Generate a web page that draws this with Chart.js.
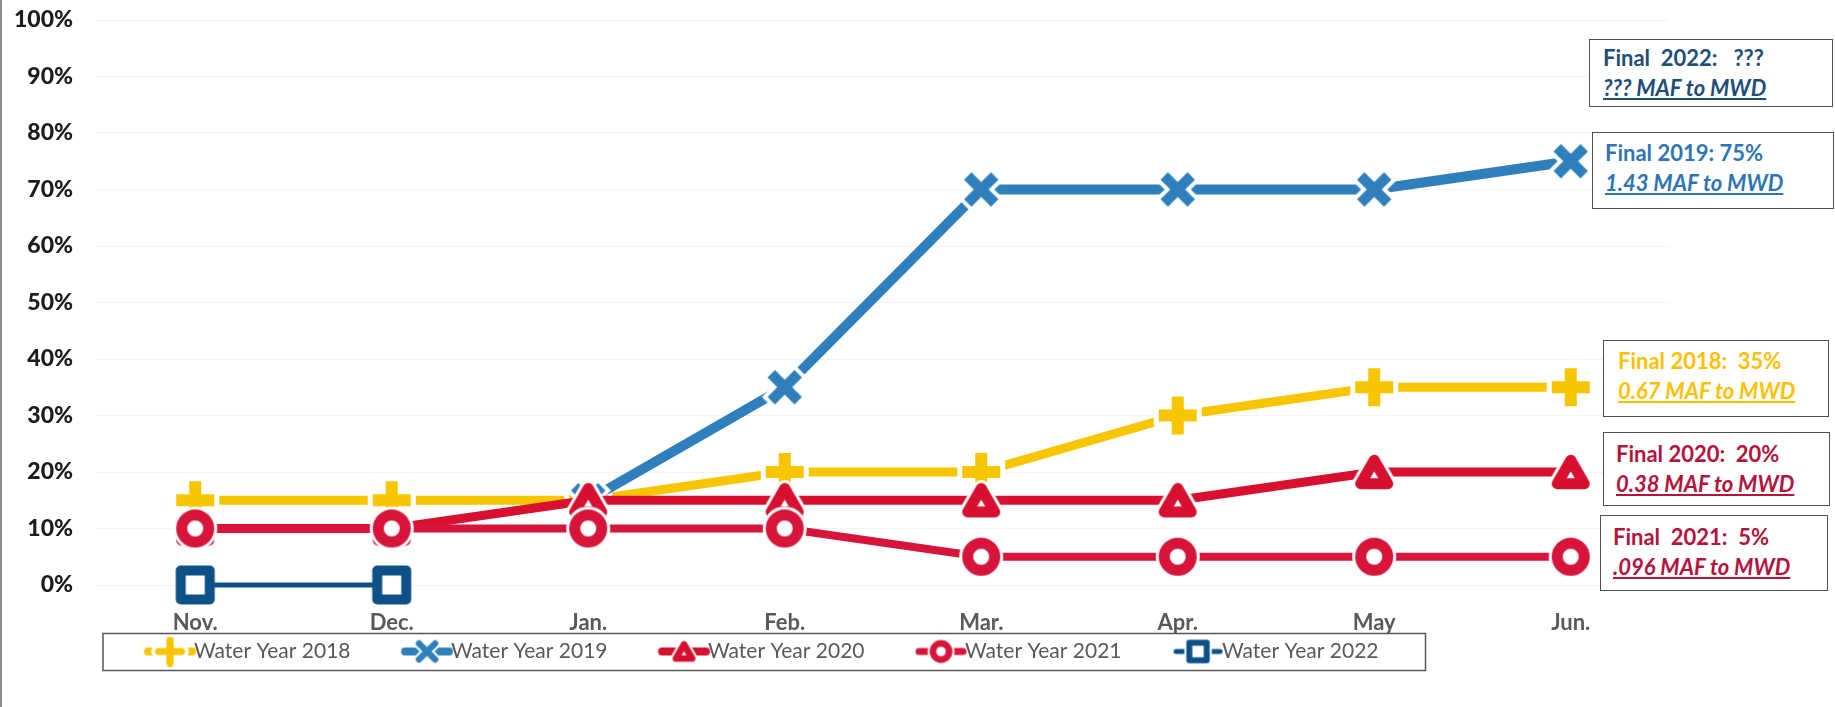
<!DOCTYPE html>
<html>
<head>
<meta charset="utf-8">
<script src="https://cdn.jsdelivr.net/npm/chart.js@4.4.1/dist/chart.umd.min.js"></script>
<style>
  html, body { margin: 0; padding: 0; background: #fff; }
  #wrap { position: relative; width: 1835px; height: 707px; overflow: hidden; }
  #frame { position: absolute; left: 0; top: 0; width: 2px; height: 707px; background: #8c8c8c; }
  .note { position: absolute; box-sizing: border-box; border: 1.5px solid #505050; background: #fff;
          font-family: Lato, sans-serif; font-weight: bold; font-size: 22px; line-height: 30px; white-space: pre; }
  .note i { text-decoration: underline; }
</style>
</head>
<body>
<div id="wrap">
  <canvas id="myChart" width="1835" height="707"></canvas>
  <div id="frame"></div>
  <div class="note" style="left:1589px;top:39px;width:244px;height:68px;padding:3px 0 0 13px;color:#1F4E79">Final  2022:   ???<br><i>??? MAF to MWD</i></div>
  <div class="note" style="left:1592px;top:132px;width:242px;height:77px;padding:5px 0 0 12px;color:#2E75B6">Final 2019: 75%<br><i>1.43 MAF to MWD</i></div>
  <div class="note" style="left:1603px;top:340px;width:226px;height:77px;padding:5px 0 0 14px;color:#FFC000">Final 2018:  35%<br><i>0.67 MAF to MWD</i></div>
  <div class="note" style="left:1603px;top:432px;width:227px;height:74px;padding:6px 0 0 12px;color:#B5133C">Final 2020:  20%<br><i>0.38 MAF to MWD</i></div>
  <div class="note" style="left:1600px;top:515px;width:228px;height:76px;padding:6px 0 0 12px;color:#B5133C">Final  2021:  5%<br><i>.096 MAF to MWD</i></div>
</div>
<script>
const months = ['Nov.', 'Dec.', 'Jan.', 'Feb.', 'Mar.', 'Apr.', 'May', 'Jun.'];
const wy2018 = [15, 15, 15, 20, 20, 30, 35, 35];
const wy2019 = [null, null, 15, 35, 70, 70, 70, 75];
const wy2020 = [10, 10, 15, 15, 15, 15, 20, 20];
const wy2021 = [10, 10, 10, 10, 5, 5, 5, 5];
const wy2022 = [0, 0, null, null, null, null, null, null];

const yellow = '#F7C600', blue = '#2F7FBC', red = '#D6102E', red2 = '#D7153A', navy = '#0E5189';

// legend spacing, worked out from the text width
const legendFont = '21px Lato';
const mctx = document.createElement('canvas').getContext('2d');
mctx.font = legendFont;
const textW = mctx.measureText('Water Year 2018').width;
const boxW = 241.5 - textW;

function makeCanvas(w, h) {
  const c = document.createElement('canvas');
  c.width = w; c.height = h;
  return c;
}

function drawMarker(ctx, kind, x, y, k, color, halo) {
  const passes = halo > 0 ? [['#fff', halo], [color, 0]] : [[color, 0]];
  passes.forEach(([col, h]) => {
    ctx.save();
    ctx.strokeStyle = col;
    ctx.fillStyle = '#fff';
    ctx.lineJoin = 'round';
    ctx.beginPath();
    if (kind === 'plus') {
      ctx.lineWidth = 12 * k + 2 * h;
      const a = 19 * k + h;
      ctx.moveTo(x - a, y); ctx.lineTo(x + a, y);
      ctx.moveTo(x, y - a); ctx.lineTo(x, y + a);
      ctx.stroke();
    } else if (kind === 'cross') {
      ctx.lineWidth = 10.5 * k + 2 * h;
      const a = 13.5 * k + h * 0.7;
      ctx.moveTo(x - a, y - a); ctx.lineTo(x + a, y + a);
      ctx.moveTo(x - a, y + a); ctx.lineTo(x + a, y - a);
      ctx.stroke();
    } else if (kind === 'triangle') {
      ctx.lineWidth = 11 * k + 2 * h;
      ctx.moveTo(x, y - 11.7 * k);
      ctx.lineTo(x + 13.5 * k, y + 11.7 * k);
      ctx.lineTo(x - 13.5 * k, y + 11.7 * k);
      ctx.closePath();
      ctx.fill(); ctx.stroke();
    } else if (kind === 'circle') {
      ctx.lineWidth = 11 * k + 2 * h;
      ctx.arc(x, y, 13.5 * k, 0, Math.PI * 2);
      ctx.fill(); ctx.stroke();
    } else {
      ctx.lineWidth = 10 * k + 2 * h;
      const a = 14.5 * k;
      ctx.rect(x - a, y - a, 2 * a, 2 * a);
      ctx.fill(); ctx.stroke();
    }
    ctx.restore();
  });
}

function pointIcon(kind, color, halo) {
  const c = makeCanvas(64, 64);
  drawMarker(c.getContext('2d'), kind, 32, 32, 1, color, halo);
  return c;
}

function legendIcon(kind, color, lw) {
  const E = 30;
  const c = makeCanvas(Math.round(boxW + 2 * E), 30);
  const ctx = c.getContext('2d');
  const mx = E + boxW - 13.5, my = 15;
  ctx.strokeStyle = color;
  ctx.lineWidth = lw;
  ctx.lineCap = 'round';
  ctx.beginPath(); ctx.moveTo(mx - 22, my); ctx.lineTo(mx + 22, my); ctx.stroke();
  drawMarker(ctx, kind, mx, my, 0.6, color, 2);
  return c;
}

const legendIcons = [
  legendIcon('plus', yellow, 8),
  legendIcon('cross', blue, 8),
  legendIcon('triangle', red, 8),
  legendIcon('circle', red2, 7),
  legendIcon('square', navy, 5)
];

const legendBox = {
  id: 'legendBox',
  afterLayout(chart) {
    chart.legend.left = 178.5 - boxW;
  },
  afterDraw(chart) {
    const hb = chart.legend.legendHitBoxes;
    if (!hb || !hb.length) return;
    const ctx = chart.ctx;
    const cy = hb[0].top + 10.5;
    const left = hb[0].left + boxW - 13.5 - 67;
    const last = hb[hb.length - 1];
    const right = last.left + boxW + 10.5 + textW + 47;
    ctx.save();
    ctx.strokeStyle = '#555';
    ctx.lineWidth = 1.5;
    ctx.strokeRect(left, cy - 18, right - left, 37);
    ctx.restore();
  }
};

function series(label, data, color, width, kind, halo, order) {
  return {
    label: label,
    data: data,
    borderColor: color,
    backgroundColor: color,
    borderWidth: width,
    pointStyle: pointIcon(kind, color, halo),
    pointRadius: 8,
    pointHoverRadius: 8,
    pointBorderWidth: 0,
    pointHoverBorderWidth: 0,
    clip: false,
    order: order
  };
}

new Chart(document.getElementById('myChart'), {
  type: 'line',
  data: {
    labels: months,
    datasets: [
      series('Water Year 2018', wy2018, yellow, 9, 'plus', 5, 3),
      series('Water Year 2019', wy2019, blue, 10, 'cross', 4, 2),
      series('Water Year 2020', wy2020, red, 9, 'triangle', 3, 1),
      series('Water Year 2021', wy2021, red2, 8, 'circle', 3, 0),
      series('Water Year 2022', wy2022, navy, 5, 'square', 0, 4)
    ]
  },
  options: {
    responsive: false,
    animation: false,
    layout: { padding: { top: 20, right: 166, bottom: 35, left: 0 } },
    plugins: {
      tooltip: { enabled: false },
      legend: {
        position: 'bottom',
        align: 'start',
        labels: {
          usePointStyle: true,
          pointStyleWidth: boxW,
          padding: 5,
          color: '#595959',
          font: { family: 'Lato', size: 21 },
          sort: (a, b) => a.datasetIndex - b.datasetIndex,
          generateLabels(chart) {
            const items = Chart.defaults.plugins.legend.labels.generateLabels(chart);
            items.forEach(it => { it.pointStyle = legendIcons[it.datasetIndex]; });
            return items;
          }
        }
      }
    },
    scales: {
      x: {
        offset: true,
        grid: { display: false, drawTicks: false },
        border: { display: false },
        ticks: { color: '#595959', font: { family: 'Lato', size: 22, weight: 'bold' }, padding: 25 },
        afterFit(scale) { scale.height = 51; }
      },
      y: {
        min: 0,
        max: 100,
        grid: { color: '#f3f3f3', drawTicks: false },
        border: { display: false },
        ticks: {
          stepSize: 10,
          padding: 24,
          color: '#1c1c1c',
          font: { family: 'Lato', size: 23, weight: '900' },
          callback: v => v + '%'
        },
        afterFit(scale) {
          scale.width = 97;
          scale.paddingTop = 0;
          scale.paddingBottom = 0;
        }
      }
    }
  },
  plugins: [legendBox]
});
</script>
</body>
</html>
